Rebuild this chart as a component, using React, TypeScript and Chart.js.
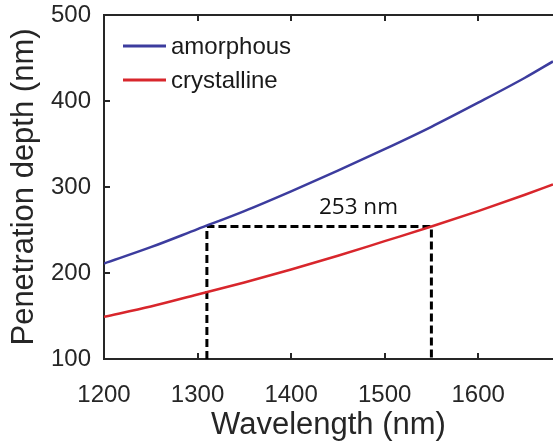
import React, { useEffect, useRef } from 'react';
import { Chart, registerables } from 'chart.js';

Chart.register(...registerables);

// ---- data ----
const wavelengths = [1200, 1250, 1300, 1350, 1400, 1450, 1500, 1550, 1600, 1650, 1680];
const amorphous = [211, 230, 251, 272, 295, 319, 344, 370, 398, 427, 446];
const crystalline = [149, 161, 175, 189, 204, 220, 237, 254, 272, 291, 303];
const markerX = [1310, 1310, 1550, 1550];
const markerY = [100, 254, 254, 100];
const annotationLabel = '253 nm';
const annotationX = 1472;
const annotationY = 254;
const seriesNames = ['amorphous', 'crystalline'];
const xRange = [1200, 1680];
const yRange = [100, 500];

const AXIS = '#262626';
const BLUE = '#3c3c9e';
const RED = '#d8262c';
const FONT = '"Liberation Sans", Arial, sans-serif';

const frameAndTicks = {
  id: 'frameAndTicks',
  afterDatasetsDraw(chart: any) {
    const { ctx, chartArea: a, scales } = chart;
    ctx.save();
    ctx.strokeStyle = AXIS;
    ctx.lineWidth = 2;
    // top frame line
    ctx.beginPath();
    ctx.moveTo(a.left - 1, Math.round(a.top));
    ctx.lineTo(a.right, Math.round(a.top));
    ctx.stroke();
    const len = 6;
    scales.x.ticks.forEach((t: any) => {
      const px = Math.round(scales.x.getPixelForValue(t.value));
      if (px <= a.left + 2 || px >= a.right - 2) return;
      ctx.beginPath();
      ctx.moveTo(px, a.bottom);
      ctx.lineTo(px, a.bottom - len);
      ctx.moveTo(px, a.top);
      ctx.lineTo(px, a.top + len);
      ctx.stroke();
    });
    scales.y.ticks.forEach((t: any) => {
      const py = Math.round(scales.y.getPixelForValue(t.value));
      if (py <= a.top + 2 || py >= a.bottom - 2) return;
      ctx.beginPath();
      ctx.moveTo(a.left, py);
      ctx.lineTo(a.left + len, py);
      ctx.stroke();
    });
    ctx.restore();
  },
};

const annotationPlugin = {
  id: 'annotationText',
  afterDatasetsDraw(chart: any) {
    const { ctx, scales } = chart;
    const px = scales.x.getPixelForValue(annotationX);
    const py = scales.y.getPixelForValue(annotationY);
    ctx.save();
    ctx.fillStyle = '#111';
    ctx.font = '22.5px "Open Sans", "Noto Sans", sans-serif';
    ctx.textAlign = 'center';
    ctx.textBaseline = 'middle';
    ctx.fillText(annotationLabel, px, py - 19);
    ctx.restore();
  },
};

const legendPlugin = {
  id: 'customLegend',
  afterDatasetsDraw(chart: any) {
    const { ctx, chartArea: a } = chart;
    ctx.save();
    ctx.font = `24px ${FONT}`;
    ctx.textBaseline = 'middle';
    ctx.textAlign = 'left';
    chart.data.datasets.slice(0, 2).forEach((ds: any, i: number) => {
      const y = a.top + 31 + i * 34;
      ctx.strokeStyle = ds.borderColor;
      ctx.lineWidth = 3;
      ctx.beginPath();
      ctx.moveTo(a.left + 19, y);
      ctx.lineTo(a.left + 62, y);
      ctx.stroke();
      ctx.fillStyle = '#1a1a1a';
      ctx.fillText(ds.label, a.left + 67, y + 1);
    });
    ctx.restore();
  },
};

export default function App() {
  const ref = useRef<HTMLCanvasElement>(null);

  useEffect(() => {
    document.body.style.margin = '0';
    const canvas = ref.current;
    if (!canvas) return;
    const chart = new Chart(canvas, {
      type: 'line',
      data: {
        datasets: [
          {
            label: seriesNames[0],
            data: wavelengths.map((x, i) => ({ x, y: amorphous[i] })),
            borderColor: BLUE,
            borderWidth: 2.5,
            pointRadius: 0,
            cubicInterpolationMode: 'monotone',
          },
          {
            label: seriesNames[1],
            data: wavelengths.map((x, i) => ({ x, y: crystalline[i] })),
            borderColor: RED,
            borderWidth: 2.5,
            pointRadius: 0,
            cubicInterpolationMode: 'monotone',
          },
          {
            label: 'marker',
            data: markerX.map((x, i) => ({ x, y: markerY[i] })),
            borderColor: '#000',
            borderWidth: 3,
            borderDash: [8, 4],
            pointRadius: 0,
            tension: 0,
          },
        ],
      },
      options: {
        animation: false,
        responsive: false,
        maintainAspectRatio: false,
        layout: { padding: { top: 15, right: 0, left: 0, bottom: 0 } },
        plugins: {
          legend: { display: false },
          tooltip: { enabled: false },
        },
        scales: {
          x: {
            type: 'linear',
            position: 'bottom',
            min: xRange[0],
            max: xRange[1],
            grid: { display: false, drawTicks: false },
            border: { display: true, color: AXIS, width: 2 },
            ticks: {
              stepSize: 100,
              includeBounds: false,
              padding: 22,
              color: AXIS,
              font: { family: FONT, size: 24 },
              maxRotation: 0,
              autoSkip: false,
              callback: (v: any) => String(v),
            },
            title: {
              display: true,
              text: 'Wavelength (nm)',
              color: AXIS,
              font: { family: FONT, size: 31 },
              padding: 0,
            },
            afterFit: (s: any) => {
              s.height = 85;
              s.paddingLeft = 0;
              s.paddingRight = 0;
            },
          },
          y: {
            type: 'linear',
            min: yRange[0],
            max: yRange[1],
            grid: { display: false, drawTicks: false },
            border: { display: true, color: AXIS, width: 2 },
            ticks: {
              stepSize: 100,
              padding: 13,
              color: AXIS,
              font: { family: FONT, size: 24, lineHeight: 1 },
            },
            title: {
              display: true,
              text: 'Penetration depth (nm)',
              color: AXIS,
              font: { family: FONT, size: 31, lineHeight: 1 },
              padding: { top: 9, bottom: 0 },
            },
            afterFit: (s: any) => {
              s.width = 104;
              s.paddingTop = 0;
              s.paddingBottom = 0;
            },
          },
        },
      },
      plugins: [frameAndTicks, annotationPlugin, legendPlugin],
    } as any);
    return () => chart.destroy();
  }, []);

  return (
    <div style={{ width: 553, height: 444, overflow: 'hidden' }}>
      <canvas ref={ref} width={553} height={444} style={{ display: 'block' }} />
    </div>
  );
}
